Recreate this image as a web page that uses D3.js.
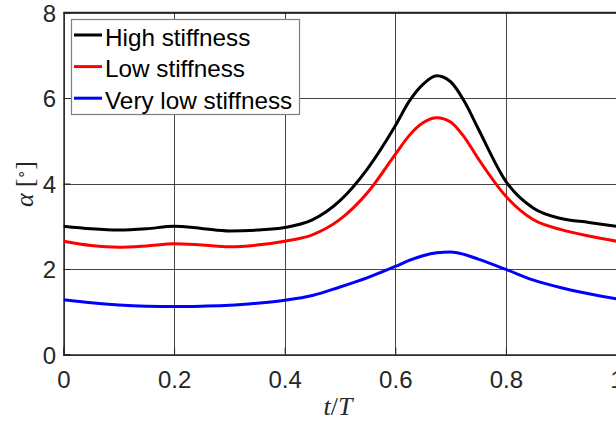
<!DOCTYPE html>
<html>
<head>
<meta charset="utf-8">
<script src="https://cdn.jsdelivr.net/npm/d3@7/dist/d3.min.js"></script>
<style>
  html, body { margin: 0; padding: 0; background: #fff; overflow: hidden; }
  svg { display: block; }
</style>
</head>
<body>
<svg id="chart" width="616" height="422"></svg>
<script>
// Normalised time t/T
const tValues = [0, 0.05, 0.1, 0.15, 0.2, 0.25, 0.3, 0.35, 0.4, 0.45, 0.5, 0.55, 0.6, 0.625, 0.65, 0.675, 0.7, 0.725, 0.75, 0.8, 0.85, 0.9, 0.95, 1.0];

// Angle alpha in degrees for each stiffness case
const highStiffness = [3.00, 2.94, 2.91, 2.94, 3.00, 2.95, 2.89, 2.91, 2.97, 3.15, 3.60, 4.35, 5.35, 5.92, 6.32, 6.52, 6.38, 5.92, 5.28, 4.05, 3.42, 3.18, 3.09, 3.00];
const lowStiffness = [2.65, 2.55, 2.51, 2.54, 2.59, 2.56, 2.52, 2.56, 2.65, 2.80, 3.16, 3.79, 4.68, 5.12, 5.42, 5.54, 5.44, 5.08, 4.58, 3.70, 3.15, 2.92, 2.77, 2.65];
const veryLowStiffness = [1.28, 1.21, 1.16, 1.13, 1.12, 1.13, 1.15, 1.20, 1.27, 1.38, 1.58, 1.80, 2.06, 2.20, 2.31, 2.38, 2.40, 2.34, 2.23, 1.99, 1.74, 1.56, 1.42, 1.30];

const seriesNames = ["High stiffness", "Low stiffness", "Very low stiffness"];
const seriesColors = ["#000000", "#ff0000", "#0000ff"];

const xTicks = [0, 0.2, 0.4, 0.6, 0.8, 1];
const yTicks = [0, 2, 4, 6, 8];

const svg = d3.select("#chart");
const plot = { left: 63.5, right: 616.5, top: 12.5, bottom: 354.5 };

const x = d3.scaleLinear().domain([0, 1]).range([plot.left, plot.right]);
const y = d3.scaleLinear().domain([0, 8]).range([plot.bottom, plot.top]);

const axisColor = "#262626";
const sans = "Liberation Sans, Arial, Helvetica, sans-serif";
const serif = "Liberation Serif, Times New Roman, serif";

svg.append("defs").append("clipPath").attr("id", "plotClip")
  .append("rect")
  .attr("x", plot.left).attr("y", plot.top)
  .attr("width", plot.right - plot.left).attr("height", plot.bottom - plot.top);

// Grid lines
const grid = svg.append("g").attr("stroke", "#262626").attr("stroke-width", 1).attr("stroke-opacity", 0.85);
grid.selectAll("line.vx").data(xTicks).join("line")
  .attr("x1", d => Math.round(x(d)) + 0.5).attr("x2", d => Math.round(x(d)) + 0.5)
  .attr("y1", plot.top).attr("y2", plot.bottom);
grid.selectAll("line.hy").data(yTicks).join("line")
  .attr("y1", d => Math.round(y(d)) + 0.5).attr("y2", d => Math.round(y(d)) + 0.5)
  .attr("x1", plot.left).attr("x2", plot.right);

// Axes (ticks drawn inside, box on)
const xAxis = d3.axisBottom(x).tickValues(xTicks).tickSize(-7)
  .tickFormat(d => d3.format("")(d));
const yAxis = d3.axisLeft(y).tickValues(yTicks).tickSize(-7)
  .tickFormat(d3.format("d"));

const gx = svg.append("g").attr("transform", `translate(0,${plot.bottom})`).call(xAxis);
const gy = svg.append("g").attr("transform", `translate(${plot.left},0)`).call(yAxis);
[gx, gy].forEach(g => {
  g.attr("font-size", 24).attr("font-family", sans);
  g.select(".domain").attr("stroke", axisColor).attr("stroke-width", 1.4);
  g.selectAll(".tick line").attr("stroke", axisColor);
  g.selectAll(".tick text").attr("fill", axisColor);
});
gx.selectAll(".tick text").attr("y", 33).attr("dy", null);
gy.selectAll(".tick text").attr("x", -7.5).attr("dy", null).attr("y", 8.6);

// Top border of the axes box
svg.append("line")
  .attr("x1", plot.left).attr("x2", plot.right)
  .attr("y1", plot.top).attr("y2", plot.top)
  .attr("stroke", axisColor).attr("stroke-width", 1.6);

// Data lines
const line = d3.line()
  .x((d, i) => x(tValues[i]))
  .y(d => y(d))
  .curve(d3.curveMonotoneX);

const allSeries = [highStiffness, lowStiffness, veryLowStiffness];
svg.append("g").attr("clip-path", "url(#plotClip)")
  .selectAll("path").data(allSeries).join("path")
  .attr("d", d => line(d))
  .attr("fill", "none")
  .attr("stroke", (d, i) => seriesColors[i])
  .attr("stroke-width", 3)
  .attr("stroke-linejoin", "round");

// Legend
const legend = svg.append("g");
legend.append("rect")
  .attr("x", 71.5).attr("y", 19.5).attr("width", 228).attr("height", 95)
  .attr("fill", "#fff").attr("stroke", "#7f7f7f").attr("stroke-width", 1.2);
const items = legend.selectAll("g.item").data(seriesNames).join("g")
  .attr("transform", (d, i) => `translate(0,${35 + i * 31.6})`);
items.append("line")
  .attr("x1", 74).attr("x2", 102).attr("y1", 0).attr("y2", 0)
  .attr("stroke", (d, i) => seriesColors[i]).attr("stroke-width", 3);
items.append("text")
  .attr("x", 105).attr("y", 10.5)
  .attr("font-family", sans)
  .attr("font-size", 24.3)
  .attr("fill", "#000")
  .text(d => d);

// Axis labels
const xLabel = svg.append("text")
  .attr("x", 338).attr("y", 415)
  .attr("text-anchor", "middle")
  .attr("font-family", serif)
  .attr("font-size", 26)
  .attr("fill", axisColor);
xLabel.append("tspan").attr("font-style", "italic").text("t");
xLabel.append("tspan").text("/");
xLabel.append("tspan").attr("font-style", "italic").text("T");

const yLabel = svg.append("text")
  .attr("transform", "translate(33,184) rotate(-90)")
  .attr("text-anchor", "middle")
  .attr("font-family", serif)
  .attr("font-size", 26)
  .attr("fill", axisColor);
yLabel.append("tspan").attr("font-style", "italic").text("α");
yLabel.append("tspan").attr("dx", 6).text("[");
yLabel.append("tspan").attr("font-size", 15).attr("dy", -7).text("∘");
yLabel.append("tspan").attr("dy", 7).text("]");
</script>
</body>
</html>
